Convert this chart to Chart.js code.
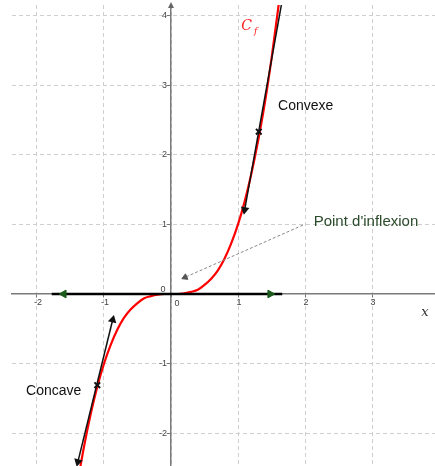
<!DOCTYPE html>
<html>
<head>
<meta charset="utf-8">
<script src="https://cdn.jsdelivr.net/npm/chart.js@4.4.1/dist/chart.umd.min.js"></script>
<style>
  html, body { margin: 0; padding: 0; background: #fff; overflow: hidden; }
  #wrap { width: 435px; height: 466px; position: relative; }
</style>
</head>
<body>
<div id="wrap"><canvas id="courbe"></canvas></div>
<script>
var curveX = [-1.40, -1.30, -1.20, -1.10, -1.00, -0.90, -0.80, -0.70, -0.60, -0.50, -0.40, -0.30, -0.20, -0.10, 0,
  0.10, 0.20, 0.30, 0.40, 0.50, 0.60, 0.70, 0.80, 0.90, 1.00, 1.10, 1.20, 1.30, 1.40, 1.50, 1.62];
var curveY = [-2.74, -2.20, -1.73, -1.33, -1.00, -0.73, -0.51, -0.34, -0.22, -0.13, -0.06, -0.03, -0.01, 0, 0,
  0, 0.01, 0.03, 0.06, 0.13, 0.22, 0.34, 0.51, 0.73, 1.00, 1.33, 1.73, 2.20, 2.74, 3.38, 4.25];

// tangent segments
var tanOriginX = [-1.78, 1.66];
var tanOriginY = [0, 0];
var tanConvexX = [1.10, 1.66];
var tanConvexY = [1.21, 4.22];
var tanConcaveX = [-1.39, -0.87];
var tanConcaveY = [-2.41, -0.37];

// points of tangency (crosses)
var crossX = [1.31, -1.10];
var crossY = [2.33, -1.31];

// pointer to the inflection point
var pointerX = [1.97, 0.21];
var pointerY = [0.99, 0.24];

var xTicks = [-2, -1, 0, 1, 2, 3];
var yTicks = [-2, -1, 0, 1, 2, 3, 4];
var xTickLabels = ['-2', '-1', '', '1', '2', '3'];
var yTickLabels = ['-2', '-1', '', '1', '2', '3', '4'];

function pts(xs, ys) {
  return xs.map(function (x, i) { return { x: x, y: ys[i] }; });
}

var labels = [
  { text: 'Convexe', x: 2.01, y: 2.70, color: '#111', font: '14px "Liberation Sans", Arial' },
  { text: 'Concave', x: -1.75, y: -1.39, color: '#111', font: '14px "Liberation Sans", Arial' },
  { text: "Point d'inflexion", x: 2.91, y: 1.03, color: '#2c4a2c', font: '15px "Liberation Sans", Arial' },
  { text: 'x', x: 3.79, y: -0.27, color: '#333', font: 'italic 13px "DejaVu Serif", serif' },
  { text: '0', x: 0.09, y: -0.13, color: '#444', font: '9px "Liberation Sans", Arial' },
  { text: '0', x: -0.12, y: 0.07, color: '#444', font: '9px "Liberation Sans", Arial' }
];

var textPlugin = {
  id: 'textes',
  afterDatasetsDraw: function (chart) {
    var c = chart.ctx, sx = chart.scales.x, sy = chart.scales.y;
    var x0 = sx.getPixelForValue(0), y0 = sy.getPixelForValue(0);
    c.save();
    c.textBaseline = 'middle';
    // tick labels
    c.fillStyle = '#444';
    c.font = '9px "Liberation Sans", Arial';
    c.textAlign = 'center';
    xTicks.forEach(function (v, i) {
      c.fillText(xTickLabels[i], sx.getPixelForValue(v) + 1, y0 + 9);
    });
    c.textAlign = 'right';
    yTicks.forEach(function (v, i) {
      c.fillText(yTickLabels[i], x0 - 4, sy.getPixelForValue(v));
    });
    // annotations
    c.textAlign = 'center';
    labels.forEach(function (l) {
      c.fillStyle = l.color;
      c.font = l.font;
      c.fillText(l.text, sx.getPixelForValue(l.x), sy.getPixelForValue(l.y));
    });
    // curve name
    var cx = sx.getPixelForValue(1.13), cy = sy.getPixelForValue(3.84);
    c.fillStyle = '#ff2020';
    c.font = 'italic 14px "DejaVu Serif", serif';
    c.fillText('C', cx, cy);
    c.font = 'italic 9px "DejaVu Serif", serif';
    c.fillText('f', cx + 9, cy + 5);
    // y axis arrow
    var top = chart.chartArea.top;
    c.fillStyle = '#666';
    c.beginPath();
    c.moveTo(x0, top - 3);
    c.lineTo(x0 - 3, top + 3);
    c.lineTo(x0 + 3, top + 3);
    c.closePath();
    c.fill();
    c.restore();
  }
};

new Chart(document.getElementById('courbe'), {
  type: 'scatter',
  data: {
    datasets: [
      {
        label: 'Cf',
        data: pts(curveX, curveY),
        showLine: true,
        borderColor: '#ff0000',
        borderWidth: 2.2,
        pointRadius: 0,
        cubicInterpolationMode: 'monotone',
        order: 5
      },
      {
        label: 'tangente 0',
        data: pts(tanOriginX, tanOriginY),
        showLine: true,
        borderColor: '#000',
        borderWidth: 2.5,
        pointRadius: 0,
        order: 3
      },
      {
        label: 'tangente convexe',
        data: pts(tanConvexX, tanConvexY),
        showLine: true,
        borderColor: '#111',
        borderWidth: 1.5,
        pointRadius: [3.5, 0],
        pointStyle: 'triangle',
        pointRotation: 190,
        pointBackgroundColor: '#111',
        pointBorderColor: '#111',
        order: 3
      },
      {
        label: 'tangente concave',
        data: pts(tanConcaveX, tanConcaveY),
        showLine: true,
        borderColor: '#111',
        borderWidth: 1.5,
        pointRadius: 3.5,
        pointStyle: 'triangle',
        pointRotation: [194, 14],
        pointBackgroundColor: '#111',
        pointBorderColor: '#111',
        order: 3
      },
      {
        label: 'fleches',
        data: pts([-1.60, 1.48], [0, 0]),
        showLine: false,
        pointRadius: 4.5,
        pointStyle: 'triangle',
        pointRotation: [270, 90],
        pointBackgroundColor: '#1c5a1c',
        pointBorderColor: '#1c5a1c',
        order: 1
      },
      {
        label: 'inflexion',
        data: pts(pointerX, pointerY),
        showLine: true,
        borderColor: '#888',
        borderWidth: 1,
        borderDash: [3, 2],
        pointRadius: [0, 3.5],
        pointStyle: 'triangle',
        pointRotation: 246,
        pointBackgroundColor: '#555',
        pointBorderColor: '#555',
        order: 2
      },
      {
        label: 'points',
        data: pts(crossX, crossY),
        showLine: false,
        pointStyle: 'crossRot',
        pointRadius: 4,
        borderWidth: 2,
        pointBorderColor: '#111',
        order: 1
      }
    ]
  },
  options: {
    responsive: true,
    maintainAspectRatio: false,
    animation: false,
    layout: { autoPadding: false, padding: { left: 12, top: 5, right: 0, bottom: 0 } },
    plugins: {
      legend: { display: false },
      tooltip: { enabled: false }
    },
    scales: {
      x: {
        type: 'linear',
        min: -2.373,
        max: 3.94,
        position: { y: 0 },
        afterBuildTicks: function (s) { s.ticks = xTicks.map(function (v) { return { value: v }; }); },
        ticks: { display: false },
        grid: { color: '#cfcfcf', lineWidth: 1, drawTicks: true, tickLength: 3, tickColor: '#777' },
        border: { display: true, color: '#7a7a7a', width: 1.5, dash: [4, 3] }
      },
      y: {
        type: 'linear',
        min: -2.47,
        max: 4.15,
        position: { x: 0 },
        afterBuildTicks: function (s) { s.ticks = yTicks.map(function (v) { return { value: v }; }); },
        ticks: { display: false },
        grid: { color: '#cfcfcf', lineWidth: 1, drawTicks: true, tickLength: 3, tickColor: '#777' },
        border: { display: true, color: '#7a7a7a', width: 1.5, dash: [4, 3] }
      }
    }
  },
  plugins: [textPlugin]
});
</script>
</body>
</html>
